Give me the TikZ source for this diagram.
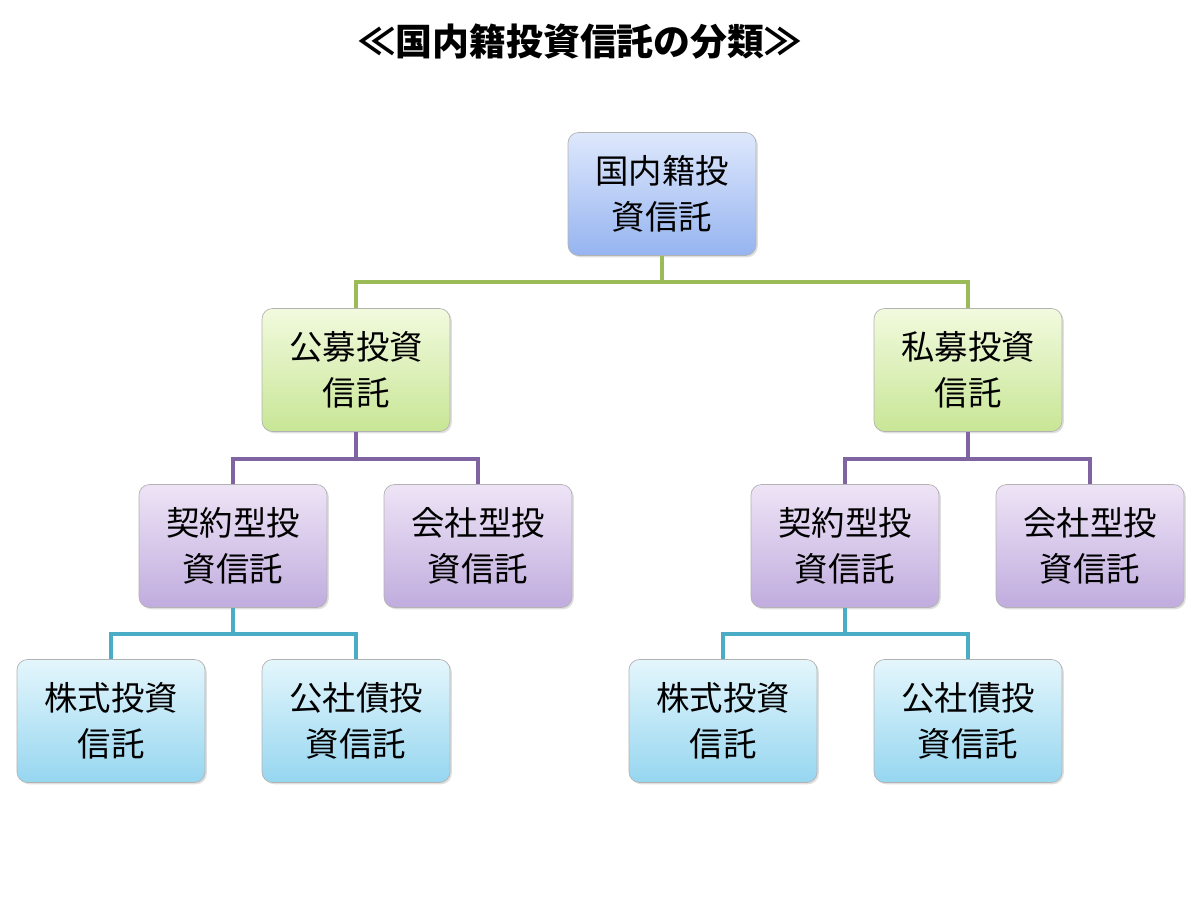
\documentclass[tikz,border=0pt]{standalone}
\usepackage{fontspec}
\setmainfont{Noto Sans CJK JP}
\usetikzlibrary{shadows}
\definecolor{rootA}{RGB}{222,232,252}
\definecolor{rootB}{RGB}{150,180,240}
\definecolor{grnA}{RGB}{242,250,222}
\definecolor{grnB}{RGB}{200,230,150}
\definecolor{purA}{RGB}{238,228,246}
\definecolor{purB}{RGB}{192,172,222}
\definecolor{cynA}{RGB}{228,246,252}
\definecolor{cynB}{RGB}{150,214,240}
\definecolor{grnL}{RGB}{155,187,89}
\definecolor{purL}{RGB}{128,100,162}
\definecolor{cynL}{RGB}{75,172,198}

\tikzset{
  box/.style = {draw = gray!60, rounded corners = 6pt, minimum width = 3.76cm,
    minimum height = 2.46cm, align = center, font = \fontsize{19}{26}\selectfont,
    drop shadow = {opacity = .25, shadow xshift = 1pt, shadow yshift = -1pt}},
  rootbox/.style = {box, top color = rootA, bottom color = rootB},
  grnbox/.style = {box, top color = grnA, bottom color = grnB},
  purbox/.style = {box, top color = purA, bottom color = purB},
  cynbox/.style = {box, top color = cynA, bottom color = cynB},
  link/.style = {line width = 2pt}
}

\begin{document}
\begin{tikzpicture}
  \useasboundingbox (0, 0) rectangle (24, -18.16);

  \node[font = \fontsize{21}{26}\selectfont\bfseries] (title) at (11.6, -0.84)
  {≪国内籍投資信託の分類≫};

  % root
  \node[rootbox] (root) at (13.24, -3.88) {国内籍投\\資信託};

  % level 2
  \node[grnbox] (pub) at (7.12, -7.40) {公募投資\\信託};
  \node[grnbox] (priv) at (19.36, -7.40) {私募投資\\信託};

  % level 3
  \node[purbox] (pubK) at (4.66, -10.92) {契約型投\\資信託};
  \node[purbox] (pubC) at (9.56, -10.92) {会社型投\\資信託};
  \node[purbox] (privK) at (16.90, -10.92) {契約型投\\資信託};
  \node[purbox] (privC) at (21.80, -10.92) {会社型投\\資信託};

  % level 4
  \node[cynbox] (pubS) at (2.22, -14.42) {株式投資\\信託};
  \node[cynbox] (pubB) at (7.12, -14.42) {公社債投\\資信託};
  \node[cynbox] (privS) at (14.46, -14.42) {株式投資\\信託};
  \node[cynbox] (privB) at (19.36, -14.42) {公社債投\\資信託};

  \begin{scope}[on background layer/.try]
    \draw[link, grnL] (root.south) -- ++(0, -0.52) -| (pub.north);
    \draw[link, grnL] (root.south) -- ++(0, -0.52) -| (priv.north);
    \draw[link, purL] (pub.south) -- ++(0, -0.54) -| (pubK.north);
    \draw[link, purL] (pub.south) -- ++(0, -0.54) -| (pubC.north);
    \draw[link, purL] (priv.south) -- ++(0, -0.54) -| (privK.north);
    \draw[link, purL] (priv.south) -- ++(0, -0.54) -| (privC.north);
    \draw[link, cynL] (pubK.south) -- ++(0, -0.52) -| (pubS.north);
    \draw[link, cynL] (pubK.south) -- ++(0, -0.52) -| (pubB.north);
    \draw[link, cynL] (privK.south) -- ++(0, -0.52) -| (privS.north);
    \draw[link, cynL] (privK.south) -- ++(0, -0.52) -| (privB.north);
  \end{scope}
\end{tikzpicture}
\end{document}
